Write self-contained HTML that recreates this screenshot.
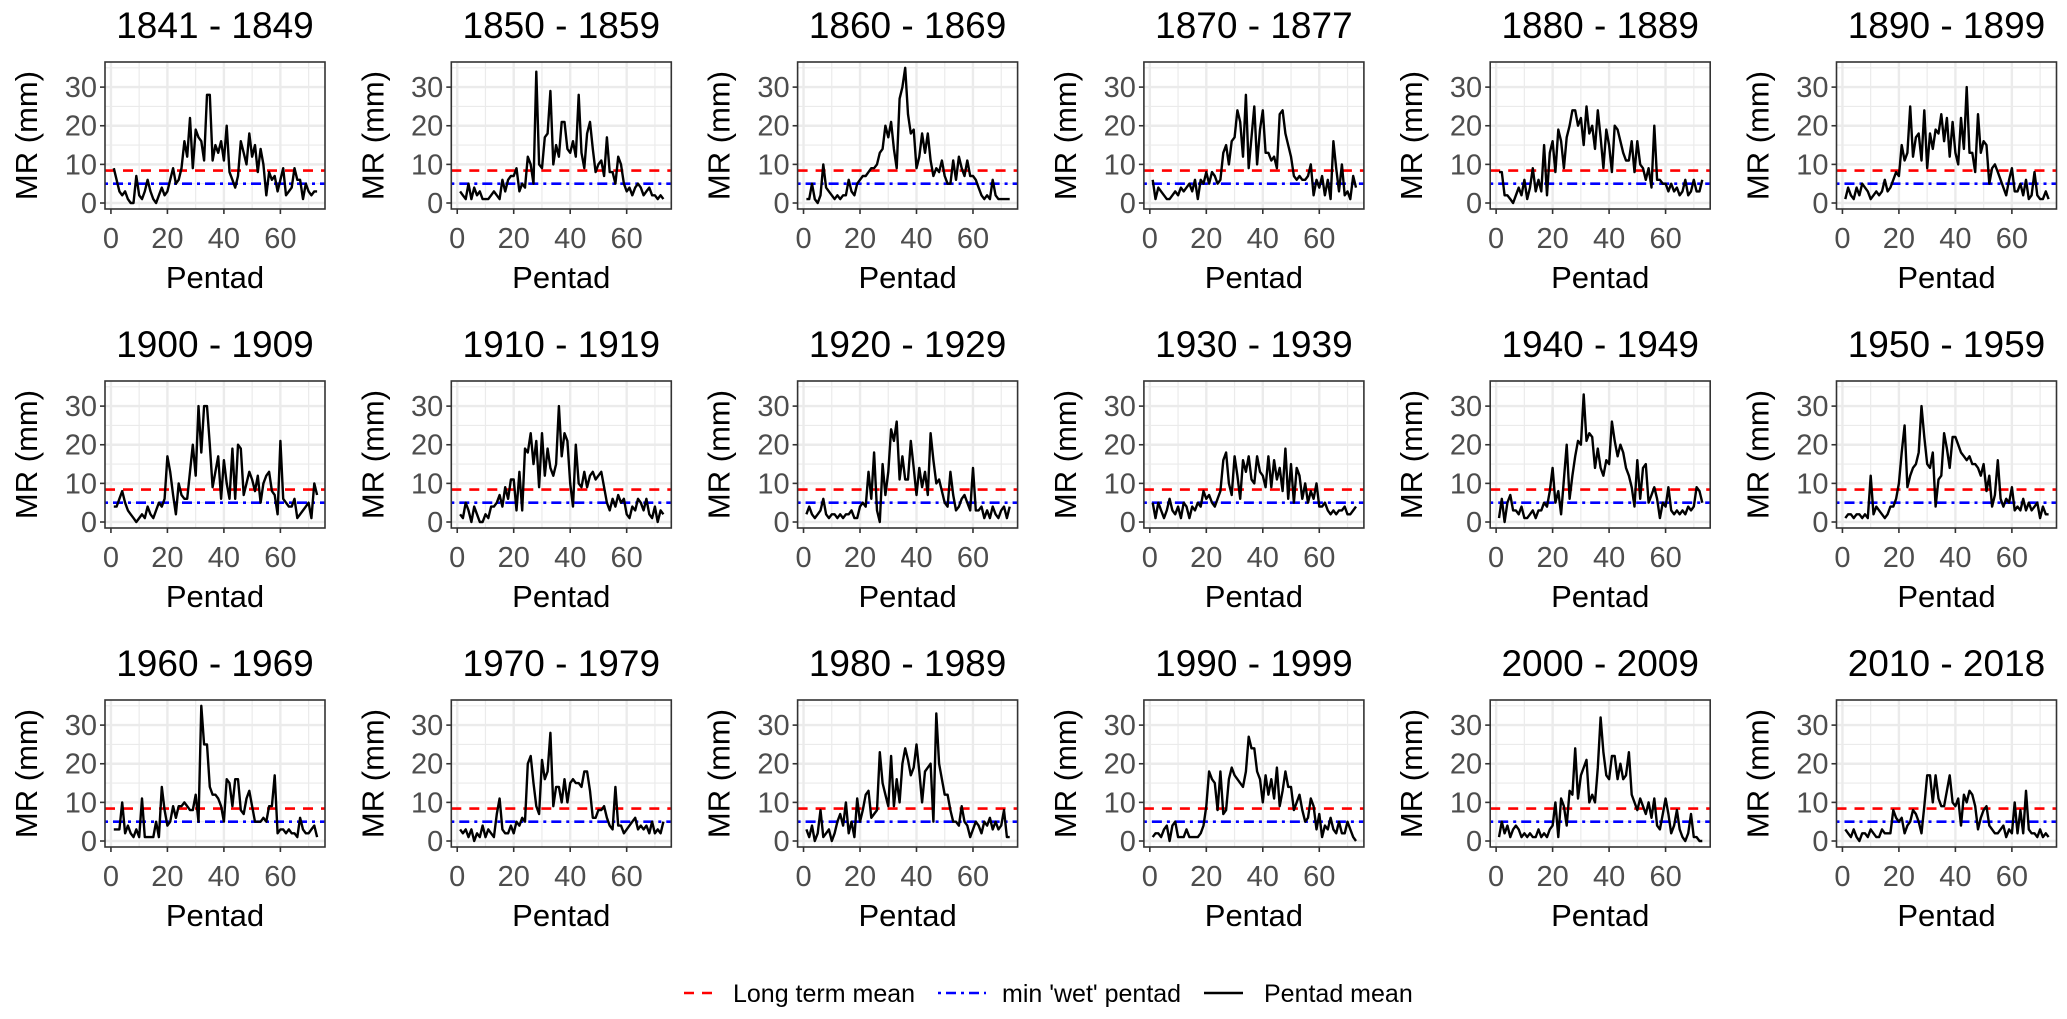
<!DOCTYPE html>
<html><head><meta charset="utf-8"><style>
html,body{margin:0;padding:0;background:#fff;}
svg text{font-family:"Liberation Sans",Arial,sans-serif;}
</style></head><body>
<svg id="chart" width="2067" height="1014" viewBox="0 0 2067 1014" xmlns="http://www.w3.org/2000/svg"></svg>
<script>
const panelTitles = ["1841 - 1849","1850 - 1859","1860 - 1869","1870 - 1877","1880 - 1889","1890 - 1899","1900 - 1909","1910 - 1919","1920 - 1929","1930 - 1939","1940 - 1949","1950 - 1959","1960 - 1969","1970 - 1979","1980 - 1989","1990 - 1999","2000 - 2009","2010 - 2018"];
const yTicks = [0,10,20,30];
const xTicks = [0,20,40,60];
const longTermMean = 8.4;
const minWetPentad = 5.0;
const s1841 = [9,6,3,2,3,1,0,0,7,2, 1,3,6,3,1,0,2,4,2,3, 6,9,5,6,9,16,12,22,9,19, 17,16,11,28,28,11,15,13,16,11, 20,8,6,4,7,16,13,10,18,12, 15,8,14,10,2,8,6,7,3,6, 9,2,3,4,9,6,6,1,5,3, 2,3,3];
const s1850 = [3,2,1,5,1,4,2,3,1,1, 1,2,3,2,1,6,3,6,7,7, 9,3,5,4,12,10,5,34,10,9, 17,18,29,10,15,12,21,21,14,13, 16,12,28,13,9,18,21,14,8,10, 11,7,17,8,8,5,12,10,5,3, 4,2,4,5,4,2,3,4,2,2, 1,2,1];
const s1860 = [1,1,5,1,0,2,10,4,3,2, 1,2,1,2,2,6,3,2,5,6, 7,7,8,9,9,10,13,14,20,17, 21,14,9,27,30,35,23,18,19,9, 12,18,13,18,11,7,9,8,11,7, 5,5,11,6,12,9,7,11,7,7, 6,4,2,1,2,1,6,2,1,1, 1,1,1];
const s1870 = [6,1,4,3,2,1,1,2,3,2, 4,3,4,5,3,6,1,6,5,8, 5,8,7,5,6,13,15,10,16,17, 24,21,12,28,9,17,25,10,19,24, 13,13,11,12,9,23,24,18,15,12, 7,6,7,6,6,7,10,2,6,4, 7,2,6,1,16,9,3,10,2,3, 1,7,4];
const s1880 = [8,8,2,2,1,0,2,4,2,6, 1,4,9,3,6,3,15,2,13,16, 8,19,16,9,17,20,24,24,20,22, 15,25,18,20,14,24,17,9,19,15, 8,20,19,16,13,11,11,16,8,16, 10,9,6,9,4,20,6,6,5,5, 3,5,3,4,2,3,6,2,3,6, 3,3,6];
const s1890 = [1,4,2,1,4,2,5,4,3,1, 2,3,2,3,6,3,4,6,8,7, 15,11,13,25,12,17,18,11,24,9, 18,14,19,18,23,16,22,12,21,13, 10,22,14,30,13,13,8,23,13,16, 15,5,9,10,8,6,4,2,6,9, 3,3,5,2,6,1,2,8,2,1, 1,3,1];
const s1900 = [4,4,6,8,5,3,2,1,0,1, 2,1,4,2,1,3,5,4,6,17, 13,7,2,10,7,6,6,13,20,12, 30,18,30,30,20,9,13,17,6,16, 10,6,19,6,20,19,7,10,13,11, 8,12,5,10,12,13,8,7,2,21, 6,5,4,4,6,1,2,3,4,5, 1,10,7];
const s1910 = [2,1,5,3,0,4,2,0,0,2, 1,4,4,5,7,4,9,6,11,11, 3,13,3,19,18,23,15,21,9,23, 12,19,14,12,15,30,17,23,21,10, 4,20,10,9,13,9,12,13,11,12, 13,9,5,3,6,4,7,5,6,2, 1,4,3,6,5,3,6,2,1,4, 0,3,2];
const s1920 = [2,4,2,1,2,3,6,2,1,2, 2,1,2,1,2,2,3,1,1,4, 5,4,13,6,18,3,0,15,7,13, 24,21,26,11,17,11,11,21,14,7, 14,9,13,7,23,16,10,11,8,5, 4,13,7,3,4,6,7,5,3,14, 3,3,4,1,3,1,4,2,1,3, 4,1,4];
const s1930 = [5,1,5,3,1,3,6,3,2,4, 1,5,4,1,4,3,5,4,8,6, 7,5,4,6,8,16,18,10,7,17, 12,6,16,13,17,11,10,17,13,12, 9,17,9,16,11,14,8,19,6,15, 5,14,12,6,10,5,8,6,10,4, 4,5,3,2,3,2,3,3,4,2, 2,3,4];
const s1940 = [1,6,0,5,7,3,3,2,4,1, 1,2,3,1,3,3,5,4,8,14, 5,8,2,11,20,6,12,17,21,20, 33,21,23,22,14,19,14,12,16,15, 26,21,17,20,18,14,12,9,4,16, 6,14,15,5,7,9,6,1,5,4, 9,3,2,3,2,3,2,4,3,4, 9,8,5];
const s1950 = [1,2,2,1,2,2,1,2,1,12, 2,4,3,2,1,2,4,4,6,10, 18,25,9,12,14,15,18,30,22,15, 14,18,4,11,12,23,19,14,22,22, 20,18,17,16,17,15,15,14,12,15, 8,12,4,7,16,6,4,6,5,9, 3,4,3,6,3,5,3,4,5,1, 4,2,2];
const s1960 = [3,3,3,10,2,4,2,1,3,1, 11,1,1,1,1,5,1,14,8,4, 5,9,6,9,9,10,9,8,8,12, 5,35,25,25,14,12,12,11,9,5, 16,15,9,16,16,8,7,11,13,9, 5,5,5,6,5,9,9,17,2,3, 3,2,3,2,2,1,6,3,2,2, 3,4,1];
const s1970 = [3,2,3,1,3,0,2,1,4,1, 3,2,1,7,11,3,2,2,4,2, 5,4,6,5,20,22,15,9,7,21, 16,18,28,9,14,14,10,16,10,15, 16,15,15,14,18,18,13,6,6,8, 8,9,6,4,3,14,4,4,2,3, 4,5,6,3,4,3,4,2,5,2, 3,2,5];
const s1980 = [3,1,4,0,2,8,1,2,3,0, 2,5,7,4,10,2,5,1,11,5, 8,12,13,6,7,8,23,15,12,9, 22,9,16,10,20,24,21,17,19,25, 18,10,18,19,20,5,33,20,16,12, 12,8,5,5,4,9,5,4,1,3, 5,4,2,5,4,6,3,5,3,4, 8,1,1];
const s1990 = [1,2,2,1,3,4,0,4,5,1, 1,1,3,1,1,1,1,2,4,9, 18,16,15,8,18,7,8,16,19,17, 16,15,14,18,27,24,24,18,16,10, 17,12,16,11,19,9,13,18,14,14, 8,10,12,8,5,6,11,9,3,7, 1,4,3,6,3,2,5,2,2,5, 3,1,0];
const s2000 = [1,5,2,4,1,3,4,3,1,2, 1,2,1,1,3,1,2,1,3,4, 10,1,11,9,4,13,12,24,11,17, 19,21,10,12,10,19,32,23,17,16, 22,22,16,20,16,17,23,12,10,8, 11,9,7,10,6,11,4,3,7,11, 7,2,4,8,3,1,0,2,7,1, 1,0,0];
const s2010 = [3,2,1,3,1,0,2,2,1,3, 2,1,1,3,2,2,2,8,6,5, 6,2,4,5,8,7,5,2,9,17, 17,10,17,11,9,9,13,17,10,9, 11,4,12,10,13,12,9,3,6,8, 9,4,3,2,2,3,4,1,3,2, 10,2,8,2,13,3,2,2,1,3, 1,2,1];
const allSeries = [s1841,s1850,s1860,s1870,s1880,s1890,s1900,s1910,s1920,s1930,s1940,s1950,s1960,s1970,s1980,s1990,s2000,s2010];

const NS = "http://www.w3.org/2000/svg";
const svg = document.getElementById("chart");
function mk(tag, attrs, parent){
  const e = document.createElementNS(NS, tag);
  for (const k in attrs) e.setAttribute(k, attrs[k]);
  (parent||svg).appendChild(e);
  return e;
}
const W = 220, H = 147;
const xMin = -2.1, xMax = 75.8, yMin = -1.55, yMax = 36.5;

allSeries.forEach((series, idx) => {
  const col = idx % 6, row = Math.floor(idx / 6);
  const L = 105 + col * 346.3, T = 62 + row * 319;
  const xs = v => L + (v - xMin) / (xMax - xMin) * W;
  const ys = v => T + H - (v - yMin) / (yMax - yMin) * H;
  const g = mk("g", {});
  
  
  mk("rect", {x:L, y:T, width:W, height:H, fill:"#fff"}, g);
  // minor grid
  [5,15,25,35].forEach(v => mk("line",{x1:L,x2:L+W,y1:ys(v),y2:ys(v),stroke:"#ebebeb","stroke-width":1.2},g));
  [10,30,50,70].forEach(v => mk("line",{x1:xs(v),x2:xs(v),y1:T,y2:T+H,stroke:"#ebebeb","stroke-width":1.2},g));
  yTicks.forEach(v => mk("line",{x1:L,x2:L+W,y1:ys(v),y2:ys(v),stroke:"#ebebeb","stroke-width":2.4},g));
  xTicks.forEach(v => mk("line",{x1:xs(v),x2:xs(v),y1:T,y2:T+H,stroke:"#ebebeb","stroke-width":2.4},g));
  // reference lines
  const rl = mk("line",{x1:L,x2:L+W,y1:ys(longTermMean),y2:ys(longTermMean),stroke:"#ff0000","stroke-width":2.6,"stroke-dasharray":"10 8"},g);
  
  
  const bl = mk("line",{x1:L,x2:L+W,y1:ys(minWetPentad),y2:ys(minWetPentad),stroke:"#0000ff","stroke-width":2.6,"stroke-dasharray":"3 5 10 5"},g);
  
  
  // series
  const pts = series.map((v,i) => xs(i+1).toFixed(1)+","+ys(v).toFixed(1)).join(" ");
  const pl = mk("polyline",{points:pts,fill:"none",stroke:"#000","stroke-width":2.4,"stroke-linejoin":"round"},g);
  
  
  mk("rect",{x:L,y:T,width:W,height:H,fill:"none",stroke:"#333","stroke-width":1.6},g);
  // ticks
  yTicks.forEach(v => {
    mk("line",{x1:L-5,x2:L,y1:ys(v),y2:ys(v),stroke:"#333","stroke-width":1.6},g);
    const t = mk("text",{x:L-8,y:ys(v)+10,"text-anchor":"end","font-size":29,fill:"#4d4d4d"},g);
    t.textContent = v;
    
    
  });
  xTicks.forEach(v => {
    mk("line",{x1:xs(v),x2:xs(v),y1:T+H,y2:T+H+5,stroke:"#333","stroke-width":1.6},g);
    const t = mk("text",{x:xs(v),y:T+H+39,"text-anchor":"middle","font-size":29,fill:"#4d4d4d"},g);
    t.textContent = v;
    
    
  });
  const tt = mk("text",{x:L+W/2,y:T-24,"text-anchor":"middle","font-size":37,fill:"#000"},g);
  tt.textContent = panelTitles[idx];
  
  
  const xt = mk("text",{x:L+W/2,y:T+H+79,"text-anchor":"middle","font-size":31,fill:"#000"},g);
  xt.textContent = "Pentad";
  
  
  const cx = L - 68, cy = T + H/2;
  const yt = mk("text",{x:cx,y:cy,"text-anchor":"middle","font-size":31,fill:"#000",transform:`rotate(-90 ${cx} ${cy})`},g);
  yt.textContent = "MR (mm)";
  
  
});

// legend
const lg = mk("g", {});


const LY = 993;
mk("line",{x1:680,x2:718,y1:LY,y2:LY,stroke:"#ff0000","stroke-width":2.6,"stroke-dasharray":"10 8","stroke-dashoffset":"-4"},lg);
let t1 = mk("text",{x:733,y:LY+9,"font-size":25,fill:"#000"},lg); t1.textContent = "Long term mean";


mk("line",{x1:938,x2:986,y1:LY,y2:LY,stroke:"#0000ff","stroke-width":2.6,"stroke-dasharray":"3 5 10 5"},lg);
let t2 = mk("text",{x:1002,y:LY+9,"font-size":25,fill:"#000"},lg); t2.textContent = "min 'wet' pentad";


mk("line",{x1:1204,x2:1243,y1:LY,y2:LY,stroke:"#000","stroke-width":2.6},lg);
let t3 = mk("text",{x:1264,y:LY+9,"font-size":25,fill:"#000"},lg); t3.textContent = "Pentad mean";


</script>
</body></html>
